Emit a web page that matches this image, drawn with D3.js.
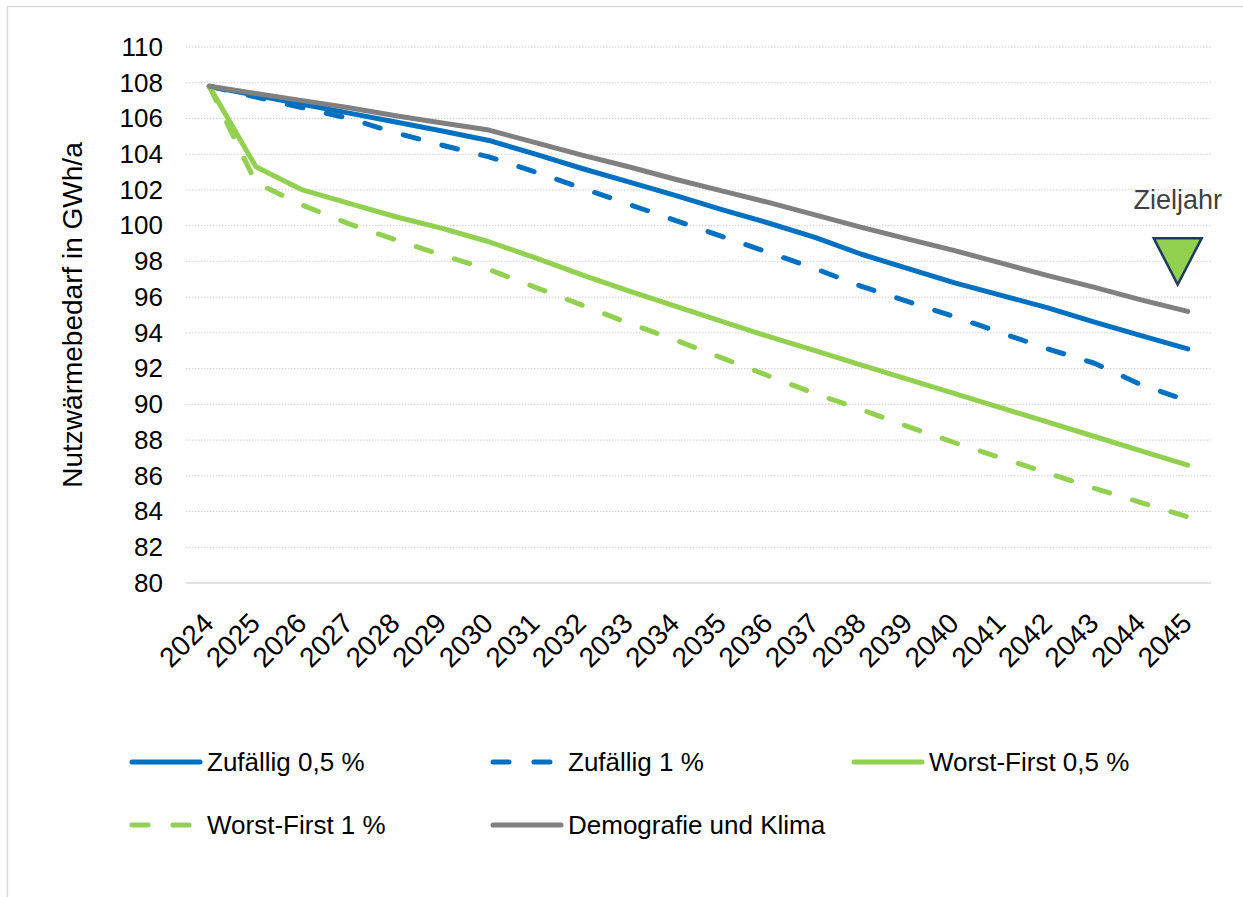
<!DOCTYPE html>
<html>
<head>
<meta charset="utf-8">
<script src="https://cdn.jsdelivr.net/npm/d3@7"></script>
<style>
    body { margin: 0; background: #fff; }
    svg text { font-family: "Liberation Sans", Arial, sans-serif; }
</style>
</head>
<body>
<div id="chart"></div>
<script>
// years on the category axis
let years = ["2024", "2025", "2026", "2027", "2028", "2029", "2030", "2031", "2032", "2033", "2034",
    "2035", "2036", "2037", "2038", "2039", "2040", "2041", "2042", "2043", "2044", "2045"];

// series values in GWh/a
let zufaellig05 = [107.8, 107.3, 106.8, 106.3, 105.8, 105.3, 104.77, 104.0, 103.2, 102.45, 101.7,
    100.9, 100.15, 99.35, 98.4, 97.6, 96.8, 96.1, 95.4, 94.6, 93.85, 93.1];
let zufaellig1 = [107.8, 107.2, 106.6, 106.0, 105.2, 104.5, 103.85, 103.0, 102.1, 101.2, 100.3,
    99.4, 98.5, 97.6, 96.6, 95.75, 94.9, 94.0, 93.1, 92.3, 91.1, 90.2];
let worst05 = [107.8, 103.3, 102.0, 101.25, 100.5, 99.85, 99.1, 98.2, 97.25, 96.35, 95.5,
    94.65, 93.8, 93.0, 92.2, 91.4, 90.6, 89.8, 89.0, 88.2, 87.4, 86.6];
let worst1 = [107.8, 102.4, 101.15, 100.1, 99.2, 98.35, 97.55, 96.55, 95.55, 94.55, 93.6,
    92.6, 91.6, 90.6, 89.7, 88.75, 87.85, 87.0, 86.15, 85.3, 84.5, 83.7];
let demografie = [107.8, 107.4, 107.0, 106.6, 106.15, 105.75, 105.35, 104.65, 103.95, 103.3, 102.6,
    101.95, 101.3, 100.6, 99.9, 99.25, 98.6, 97.9, 97.2, 96.55, 95.85, 95.2];

// y ticks
let yTicks = [80, 82, 84, 86, 88, 90, 92, 94, 96, 98, 100, 102, 104, 106, 108, 110];

let seriesNames = ["Zufällig 0,5 %", "Zufällig 1 %", "Worst-First 0,5 %", "Worst-First 1 %", "Demografie und Klima"];
let seriesValues = [zufaellig05, zufaellig1, worst05, worst1, demografie];
let seriesColors = ["#0070C0", "#0070C0", "#92D050", "#92D050", "#808080"];
let seriesDashed = [false, true, false, true, false];

let targetLabel = "Zieljahr";
let targetYear = "2045";

let width = 1243, height = 897;
let margin = {top: 47, right: 32, bottom: 314, left: 186};

let svg = d3.select("#chart").append("svg")
    .attr("width", width)
    .attr("height", height);

// outer frame
svg.append("rect")
    .attr("x", 7.5)
    .attr("y", 6.5)
    .attr("width", width + 20)
    .attr("height", height + 20)
    .attr("fill", "none")
    .attr("stroke", "#d9d9d9")
    .attr("stroke-width", 1.5);

let x = d3.scaleBand()
    .domain(years)
    .range([margin.left, width - margin.right])
    .padding(0);

let y = d3.scaleLinear()
    .domain([80, 110])
    .range([height - margin.bottom, margin.top]);

// gridlines
svg.append("g")
    .selectAll("line")
    .data(yTicks.filter(d => d !== 80))
    .enter().append("line")
    .attr("x1", margin.left)
    .attr("x2", width - margin.right)
    .attr("y1", d => y(d))
    .attr("y2", d => y(d))
    .attr("stroke", "#d0d0d0")
    .attr("stroke-width", 1)
    .attr("stroke-dasharray", "1.5,1.5");

// base line
svg.append("line")
    .attr("x1", margin.left)
    .attr("x2", width - margin.right)
    .attr("y1", y(80))
    .attr("y2", y(80))
    .attr("stroke", "#d9d9d9")
    .attr("stroke-width", 1.5);

// y axis labels
let yAxis = d3.axisLeft(y)
    .tickValues(yTicks)
    .tickSize(0)
    .tickPadding(0);

svg.append("g")
    .attr("transform", `translate(${margin.left - 23}, 0)`)
    .call(yAxis)
    .call(g => g.select(".domain").remove())
    .selectAll("text")
    .attr("font-size", "26px")
    .attr("fill", "#000")
    .style("font-family", "'Liberation Sans', Arial, sans-serif");

// y axis title
svg.append("text")
    .attr("transform", `translate(82, ${(y(80) + y(110)) / 2}) rotate(-90)`)
    .attr("text-anchor", "middle")
    .attr("font-size", "28px")
    .attr("fill", "#000")
    .text("Nutzwärmebedarf in GWh/a");

// x axis labels, rotated
let xAxis = d3.axisBottom(x)
    .tickSize(0)
    .tickPadding(0);

svg.append("g")
    .attr("transform", `translate(0, ${y(80)})`)
    .call(xAxis)
    .call(g => g.select(".domain").remove())
    .selectAll("text")
    .attr("font-size", "28px")
    .attr("fill", "#000")
    .style("font-family", "'Liberation Sans', Arial, sans-serif")
    .attr("text-anchor", "end")
    .attr("transform", "translate(-8, 28) rotate(-45)")
    .attr("dy", "0.7em")
    .attr("y", 0);

// lines
let line = d3.line()
    .x((d, i) => x(years[i]) + x.bandwidth() / 2)
    .y(d => y(d));

svg.append("g")
    .selectAll("path")
    .data(seriesValues)
    .enter().append("path")
    .attr("d", d => line(d))
    .attr("fill", "none")
    .attr("stroke", (d, i) => seriesColors[i])
    .attr("stroke-width", 5)
    .attr("stroke-linecap", "round")
    .attr("stroke-linejoin", "round")
    .attr("stroke-dasharray", (d, i) => seriesDashed[i] ? "16,24" : null);

// target year marker
let tx = x(targetYear) + x.bandwidth() / 2 - 10;
svg.append("path")
    .attr("d", `M${tx - 24},${y(99.3)} L${tx + 24},${y(99.3)} L${tx},${y(96.7)} Z`)
    .attr("fill", "#92D050")
    .attr("stroke", "#1F3A5F")
    .attr("stroke-width", 2.5)
    .attr("stroke-linejoin", "miter");

svg.append("text")
    .attr("x", tx)
    .attr("y", y(100.93))
    .attr("text-anchor", "middle")
    .attr("font-size", "27px")
    .attr("fill", "#404040")
    .text(targetLabel);

// legend
let legendPos = [[130, 762], [491, 762], [852, 762], [130, 825], [491, 825]];

let legend = svg.append("g")
    .selectAll("g")
    .data(seriesNames)
    .enter().append("g")
    .attr("transform", (d, i) => `translate(${legendPos[i][0]}, ${legendPos[i][1]})`);

legend.append("line")
    .attr("x1", 2)
    .attr("x2", 70)
    .attr("y1", 0)
    .attr("y2", 0)
    .attr("stroke", (d, i) => seriesColors[i])
    .attr("stroke-width", 5)
    .attr("stroke-linecap", "round")
    .attr("stroke-dasharray", (d, i) => seriesDashed[i] ? "16,25" : null);

legend.append("text")
    .attr("x", 77)
    .attr("y", 0)
    .attr("dy", "0.36em")
    .attr("font-size", "26px")
    .attr("fill", "#000")
    .text(d => d);
</script>
</body>
</html>
